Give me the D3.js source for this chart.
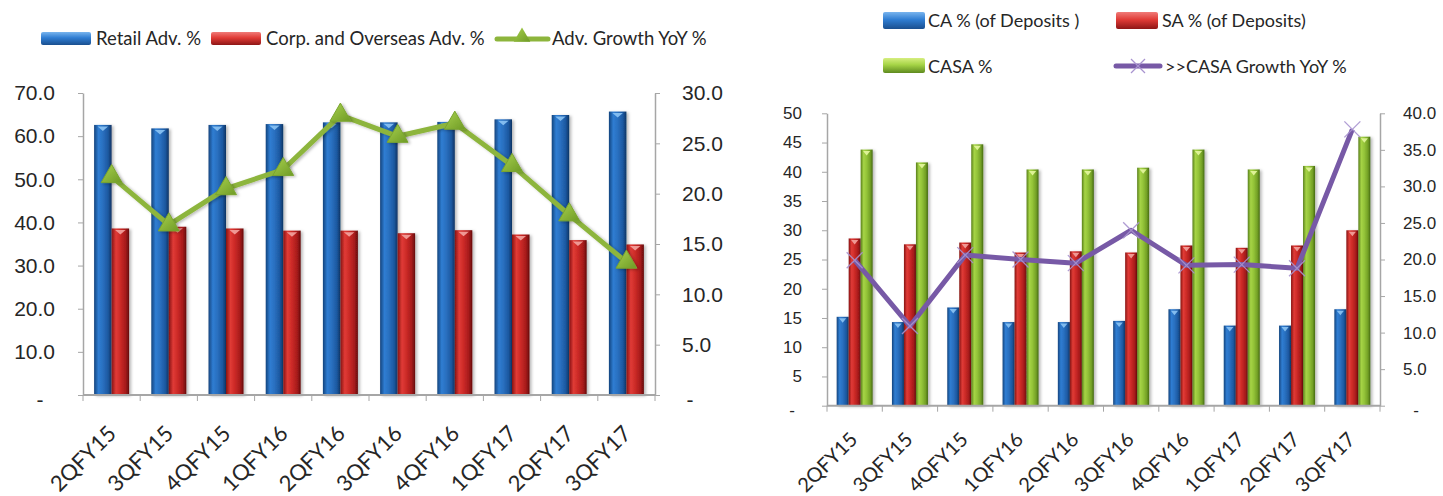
<!DOCTYPE html>
<html>
<head>
<meta charset="utf-8">
<script src="https://cdn.jsdelivr.net/npm/d3@7"></script>
<style>
  html, body { margin: 0; padding: 0; background: #ffffff; }
  svg { display: block; font-family: Lato, "Open Sans", sans-serif; }
  .axis path, .axis line { stroke: #a6a6a6; }
  .axis text { fill: #262626; }
</style>
</head>
<body>
<svg id="chart" width="1443" height="496"></svg>
<script>
// ---- Data ----
const quarters = ["2QFY15", "3QFY15", "4QFY15", "1QFY16", "2QFY16", "3QFY16", "4QFY16", "1QFY17", "2QFY17", "3QFY17"];

// Advances mix (left axis, %) and advances growth (right axis, %)
const retailAdv    = [62.6, 61.8, 62.6, 62.8, 63.2, 63.2, 63.3, 63.9, 64.9, 65.7];
const corpAdv      = [38.6, 39.0, 38.6, 38.1, 38.1, 37.5, 38.2, 37.2, 35.9, 34.9];
const advGrowthYoY = [21.7, 16.9, 20.5, 22.4, 27.8, 25.7, 27.0, 22.8, 17.9, 13.2];

// Deposit mix (left axis, %) and CASA growth (right axis, %)
const caPct          = [15.2, 14.3, 16.8, 14.3, 14.3, 14.5, 16.5, 13.7, 13.7, 16.5];
const saPct          = [28.6, 27.6, 27.9, 26.2, 26.4, 26.2, 27.4, 27.0, 27.4, 30.0];
const casaPct        = [43.8, 41.6, 44.7, 40.4, 40.4, 40.7, 43.8, 40.4, 41.0, 46.0];
const casaGrowthYoY  = [19.9, 10.9, 20.6, 20.0, 19.5, 24.0, 19.2, 19.3, 18.8, 37.8];

const leftTicks1  = [0, 10, 20, 30, 40, 50, 60, 70];
const rightTicks1 = [0, 5, 10, 15, 20, 25, 30];
const leftTicks2  = [0, 5, 10, 15, 20, 25, 30, 35, 40, 45, 50];
const rightTicks2 = [0, 5, 10, 15, 20, 25, 30, 35, 40];

const svg = d3.select("#chart");
const defs = svg.append("defs");

// Glossy cylinder-like fills for the bars
const palettes = {
  blue:  { side: ["#14447d", "#2f7dd2", "#2a70c0", "#1c58a0", "#0e3463"], cap: "#8cc4f4", top: "#78b4ee", bottom: "#1a4f8f" },
  red:   { side: ["#861313", "#e03b36", "#cc2a27", "#a61b1b", "#650b0b"], cap: "#f3a4a0", top: "#f07b78", bottom: "#8e1616" },
  green: { side: ["#587f1a", "#a6d446", "#93c338", "#73a026", "#456a12"], cap: "#e6f7a0", top: "#d6ee80", bottom: "#5e8a1f" }
};
Object.entries(palettes).forEach(([k, p]) => {
  const g = defs.append("linearGradient").attr("id", "bar-" + k).attr("x1", 0).attr("x2", 1).attr("y1", 0).attr("y2", 0);
  [0, 0.25, 0.5, 0.8, 1].forEach((o, i) => g.append("stop").attr("offset", o).attr("stop-color", p.side[i]));
  const l = defs.append("linearGradient").attr("id", "leg-" + k).attr("x1", 0).attr("x2", 0).attr("y1", 0).attr("y2", 1);
  l.append("stop").attr("offset", 0).attr("stop-color", p.top);
  l.append("stop").attr("offset", 0.45).attr("stop-color", p.side[1]);
  l.append("stop").attr("offset", 1).attr("stop-color", p.bottom);
});
const tri = defs.append("linearGradient").attr("id", "tri-green").attr("x1", 0).attr("x2", 1).attr("y1", 0).attr("y2", 1);
tri.append("stop").attr("offset", 0).attr("stop-color", "#a9d24e");
tri.append("stop").attr("offset", 1).attr("stop-color", "#6e9a25");

const shadow = defs.append("filter").attr("id", "shadow").attr("x", "-50%").attr("y", "-10%").attr("width", "200%").attr("height", "130%");
shadow.append("feDropShadow").attr("dx", 2).attr("dy", 1).attr("stdDeviation", 1.6).attr("flood-color", "#000").attr("flood-opacity", 0.28);

function drawBars(g, x, x1, y, data, key) {
  const p = palettes[key];
  const grp = g.append("g").attr("filter", "url(#shadow)");
  grp.selectAll("rect").data(data).join("rect")
    .attr("x", (d, i) => x(quarters[i]) + x1(key))
    .attr("width", x1.bandwidth())
    .attr("y", d => y(d))
    .attr("height", d => y(0) - y(d))
    .attr("fill", `url(#bar-${key})`);
  // light cap at the top of each bar
  g.append("g").selectAll("path").data(data).join("path")
    .attr("d", (d, i) => {
      const bx = x(quarters[i]) + x1(key), w = x1.bandwidth(), ty = y(d);
      return `M${bx + w * 0.2},${ty + 1.5} L${bx + w * 0.8},${ty + 1.5} L${bx + w * 0.5},${ty + 6} Z`;
    })
    .attr("fill", p.cap).attr("opacity", 0.9);
}

function yAxes(g, yL, yR, ticksL, ticksR, fmtR, opts) {
  const { left, right, padL, padR, fs, dashL, dashR, fmtL } = opts;
  const aL = g.append("g").attr("class", "axis").attr("transform", `translate(${left},0)`)
    .call(d3.axisLeft(yL).tickValues(ticksL).tickSize(5).tickSizeOuter(0).tickPadding(padL).tickFormat(fmtL));
  aL.selectAll("text").style("font-size", fs + "px");
  aL.selectAll(".tick").filter(d => d === 0).select("text").attr("text-anchor", "middle").attr("x", dashL).attr("dy", "0.55em");
  const aR = g.append("g").attr("class", "axis").attr("transform", `translate(${right},0)`)
    .call(d3.axisRight(yR).tickValues(ticksR).tickSize(5).tickSizeOuter(0).tickPadding(padR).tickFormat(fmtR));
  aR.selectAll("text").style("font-size", fs + "px");
  aR.selectAll(".tick").filter(d => d === 0).select("text").attr("text-anchor", "middle").attr("x", dashR).attr("dy", "0.55em");
  aL.select(".domain").attr("stroke-width", 1.5);
  aR.select(".domain").attr("stroke-width", 1.5);
}

function xAxis(g, x, y0, labelDy, labelDx, fs) {
  const [r0, r1] = x.range();
  const ax = g.append("g").attr("class", "axis");
  ax.append("line").attr("x1", r0).attr("x2", r1).attr("y1", y0).attr("y2", y0).attr("stroke-width", 2);
  const bounds = quarters.map(q => x(q)).concat([r1]);
  ax.selectAll("line.tk").data(bounds).join("line").attr("class", "tk")
    .attr("x1", d => d).attr("x2", d => d).attr("y1", y0).attr("y2", y0 + 6);
  ax.selectAll("text").data(quarters).join("text")
    .attr("transform", d => `translate(${x(d) + x.bandwidth() / 2 + labelDx},${y0 + labelDy}) rotate(-45)`)
    .attr("text-anchor", "end")
    .style("font-size", fs + "px")
    .text(d => d);
}

const dash = d => d === 0 ? "-" : null;

// ================= Advances chart =================
{
  const g = svg.append("g");
  const x = d3.scaleBand().domain(quarters).range([83, 655]);
  const series = ["blue", "red"];
  const x1 = d3.scaleBand().domain(series).range([(x.bandwidth() - 35) / 2, (x.bandwidth() + 35) / 2]);
  const y = d3.scaleLinear().domain([0, 70]).range([395, 93]);
  const y2 = d3.scaleLinear().domain([0, 30]).range([395, 93]);

  yAxes(g, y, y2, leftTicks1, rightTicks1, d => dash(d) || d.toFixed(1),
    { left: 83, right: 655, padL: 23, padR: 22, fs: 21, dashL: -43, dashR: 35, fmtL: d => dash(d) || d.toFixed(1) });

  drawBars(g, x, x1, y, retailAdv, "blue");
  drawBars(g, x, x1, y, corpAdv, "red");
  xAxis(g, x, 395, 40, 6, 22);

  const cx = (d, i) => x(quarters[i]) + x.bandwidth() / 2;
  const line = d3.line().x(cx).y(d => y2(d));
  g.append("path").datum(advGrowthYoY).attr("d", line)
    .attr("fill", "none").attr("stroke", "#8db53c").attr("stroke-width", 5).attr("stroke-linejoin", "round")
    .attr("filter", "url(#shadow)");
  g.append("g").attr("filter", "url(#shadow)").selectAll("path").data(advGrowthYoY).join("path")
    .attr("transform", (d, i) => `translate(${cx(d, i)},${y2(d)})`)
    .attr("d", d3.symbol(d3.symbolTriangle).size(190))
    .attr("fill", "url(#tri-green)").attr("stroke", "#7aa52f").attr("stroke-width", 1);

  // legend
  const lg = g.append("g").style("font-size", "18.5px").attr("fill", "#262626");
  lg.append("rect").attr("x", 41).attr("y", 32).attr("width", 50).attr("height", 13).attr("rx", 2).attr("fill", "url(#leg-blue)");
  lg.append("text").attr("x", 96).attr("y", 45).text("Retail Adv. %");
  lg.append("rect").attr("x", 211).attr("y", 32).attr("width", 50).attr("height", 13).attr("rx", 2).attr("fill", "url(#leg-red)");
  lg.append("text").attr("x", 266).attr("y", 45).text("Corp. and Overseas Adv. %");
  lg.append("line").attr("x1", 497).attr("x2", 548).attr("y1", 39).attr("y2", 39).attr("stroke", "#8db53c").attr("stroke-width", 5).attr("stroke-linecap", "round");
  lg.append("path").attr("transform", "translate(522,37)").attr("d", d3.symbol(d3.symbolTriangle).size(120)).attr("fill", "url(#tri-green)");
  lg.append("text").attr("x", 552).attr("y", 45).text("Adv. Growth YoY %");
}

// ================= Deposits chart =================
{
  const g = svg.append("g");
  const x = d3.scaleBand().domain(quarters).range([827, 1380]);
  const series = ["blue", "red", "green"];
  const x1 = d3.scaleBand().domain(series).range([(x.bandwidth() - 36) / 2, (x.bandwidth() + 36) / 2]);
  const y = d3.scaleLinear().domain([0, 50]).range([405.7, 113.3]);
  const y2 = d3.scaleLinear().domain([0, 40]).range([405.7, 113.3]);

  yAxes(g, y, y2, leftTicks2, rightTicks2, d => dash(d) || d.toFixed(1),
    { left: 827, right: 1380, padL: 20, padR: 18, fs: 17, dashL: -35, dashR: 36, fmtL: d => dash(d) || d3.format("d")(d) });

  drawBars(g, x, x1, y, caPct, "blue");
  drawBars(g, x, x1, y, saPct, "red");
  drawBars(g, x, x1, y, casaPct, "green");
  xAxis(g, x, 405.7, 35, 4, 20);

  const cx = (d, i) => x(quarters[i]) + x.bandwidth() / 2;
  const line = d3.line().x(cx).y(d => y2(d));
  g.append("path").datum(casaGrowthYoY).attr("d", line)
    .attr("fill", "none").attr("stroke", "#7759a6").attr("stroke-width", 5).attr("stroke-linejoin", "round");
  const mk = g.append("g").attr("stroke", "#a893cf").attr("stroke-width", 1.3).attr("opacity", 0.9);
  casaGrowthYoY.forEach((d, i) => {
    const px = cx(d, i), py = y2(d), s = 8;
    mk.append("line").attr("x1", px - s).attr("y1", py - s).attr("x2", px + s).attr("y2", py + s);
    mk.append("line").attr("x1", px - s).attr("y1", py + s).attr("x2", px + s).attr("y2", py - s);
  });

  // legend
  const lg = g.append("g").style("font-size", "18px").attr("fill", "#262626");
  lg.append("rect").attr("x", 883).attr("y", 12).attr("width", 42).attr("height", 17).attr("rx", 2).attr("fill", "url(#leg-blue)");
  lg.append("text").attr("x", 928).attr("y", 27).text("CA % (of Deposits )");
  lg.append("rect").attr("x", 1116).attr("y", 12).attr("width", 42).attr("height", 17).attr("rx", 2).attr("fill", "url(#leg-red)");
  lg.append("text").attr("x", 1162).attr("y", 27).text("SA % (of Deposits)");
  lg.append("rect").attr("x", 883).attr("y", 58).attr("width", 42).attr("height", 15).attr("rx", 2).attr("fill", "url(#leg-green)");
  lg.append("text").attr("x", 928).attr("y", 73).text("CASA %");
  lg.append("line").attr("x1", 1116).attr("x2", 1160).attr("y1", 66).attr("y2", 66).attr("stroke", "#7759a6").attr("stroke-width", 5).attr("stroke-linecap", "round");
  const lx = 1138, ly = 66;
  lg.append("line").attr("x1", lx - 7).attr("y1", ly - 7).attr("x2", lx + 7).attr("y2", ly + 7).attr("stroke", "#a893cf").attr("stroke-width", 1.3);
  lg.append("line").attr("x1", lx - 7).attr("y1", ly + 7).attr("x2", lx + 7).attr("y2", ly - 7).attr("stroke", "#a893cf").attr("stroke-width", 1.3);
  lg.append("text").attr("x", 1165).attr("y", 73).text(">>CASA Growth YoY %");
}
</script>
</body>
</html>
